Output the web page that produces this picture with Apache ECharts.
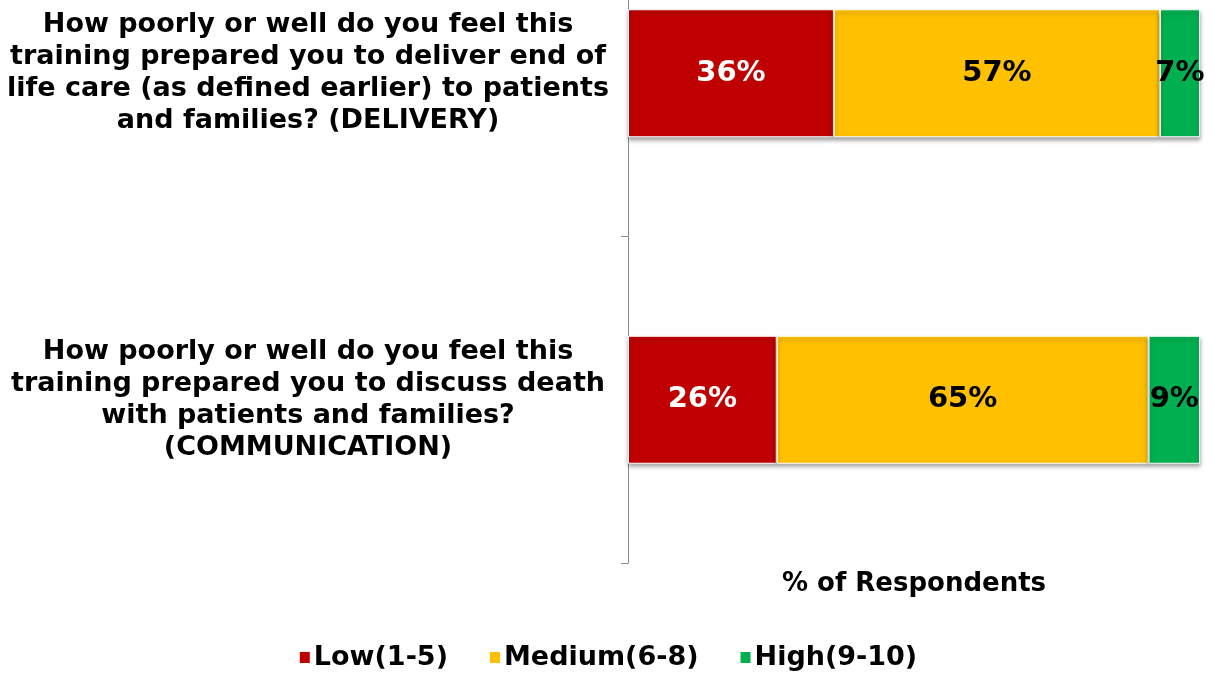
<!DOCTYPE html>
<html>
<head>
<meta charset="utf-8">
<script src="https://cdn.jsdelivr.net/npm/echarts@6/dist/echarts.min.js"></script>
<style>
  html, body { margin: 0; padding: 0; background: #fff; overflow: hidden; }
  /* original picture is cropped at the top: shift the canvas up */
  #chart { position: absolute; left: 0; top: -90px; width: 1215px; height: 763px; }
</style>
</head>
<body>
<div id="chart"></div>
<script>
  // questions (wrapped the way the original shows them)
  var questions = [
    'How poorly or well do you feel this\ntraining prepared you to deliver end of\nlife care (as defined earlier) to patients\nand families? (DELIVERY)',
    'How poorly or well do you feel this\ntraining prepared you to discuss death\nwith patients and families?\n(COMMUNICATION)'
  ];
  var low = [36, 26];
  var medium = [57, 65];
  var high = [7, 9];

  var font = '"DejaVu Sans", Verdana, sans-serif';
  var myChart = echarts.init(document.getElementById('chart'));

  function seg(name, data, color, labelColor) {
    return {
      name: name,
      type: 'bar',
      stack: 'all',
      barWidth: 128,
      data: data,
      itemStyle: {
        color: color,
        borderColor: '#fff',
        borderWidth: 1,
        shadowColor: 'rgba(0,0,0,0.35)',
        shadowBlur: 4,
        shadowOffsetY: 3
      },
      label: {
        show: true,
        position: 'inside',
        formatter: '{c}%',
        color: labelColor,
        fontFamily: font,
        fontWeight: 'bold',
        fontSize: 29
      }
    };
  }

  var option = {
    backgroundColor: '#fff',
    animation: false,
    grid: { left: 628, right: 15, top: 0, bottom: 110, containLabel: false },
    legend: {
      bottom: -3,
      left: 'center',
      itemWidth: 12,
      itemHeight: 13,
      itemGap: 40,
      icon: 'rect',
      textStyle: { fontFamily: font, fontWeight: 'bold', fontSize: 27, color: '#000', padding: [0, 0, 0, -2] },
      data: ['Low(1-5)', 'Medium(6-8)', 'High(9-10)']
    },
    xAxis: {
      type: 'value',
      min: 0,
      max: 100,
      name: '% of Respondents',
      nameLocation: 'middle',
      nameGap: 8,
      nameTextStyle: { fontFamily: font, fontWeight: 'bold', fontSize: 26, color: '#000', verticalAlign: 'top' },
      axisLine: { show: false },
      axisTick: { show: false },
      axisLabel: { show: false },
      splitLine: { show: false }
    },
    yAxis: {
      type: 'category',
      inverse: true,
      data: questions,
      axisLine: { show: true, lineStyle: { color: '#888', width: 1 } },
      axisTick: { show: true, length: 7, lineStyle: { color: '#888' } },
      axisLabel: {
        margin: 320,
        align: 'center',
        lineHeight: 32,
        padding: [4, 0, 0, 0],
        fontFamily: font,
        fontWeight: 'bold',
        fontSize: 27,
        color: '#000'
      }
    },
    series: [
      seg('Low(1-5)', low, '#C00000', '#fff'),
      seg('Medium(6-8)', medium, '#FFC000', '#000'),
      seg('High(9-10)', high, '#00B050', '#000')
    ]
  };

  myChart.setOption(option);
</script>
</body>
</html>
